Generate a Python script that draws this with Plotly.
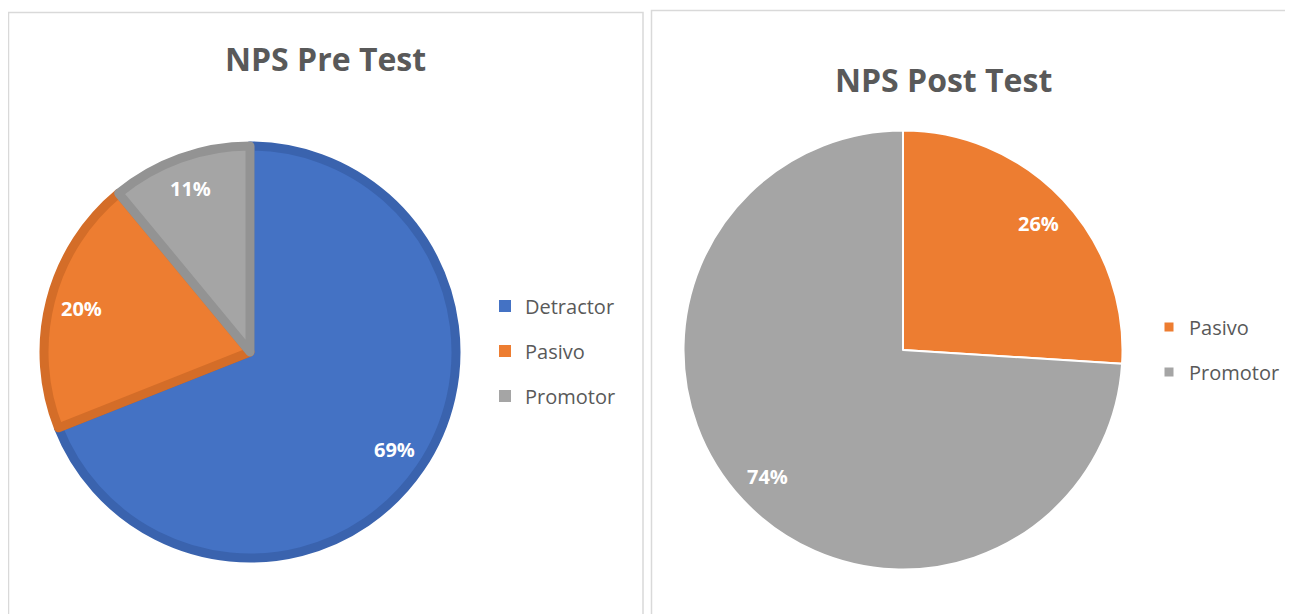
import math
import plotly.graph_objects as go

# ---- data ----
pre_labels = ["Detractor", "Pasivo", "Promotor"]
pre_values = [69, 20, 11]
post_labels = ["Pasivo", "Promotor"]
post_values = [26, 74]

pre_title = "NPS Pre Test"
post_title = "NPS Post Test"

# ---- styling ----
OX, OY = 8, 8            # page body margin
W, H = 1285, 606         # figure size
fill = {"Detractor": "#4472C4", "Pasivo": "#ED7D31", "Promotor": "#A5A5A5"}
edge = {"Detractor": "#3A63AE", "Pasivo": "#D46D28", "Promotor": "#939393"}
FONT = "Open Sans"
TXT = "#595959"


def px(sx):
    return (sx - OX) / W


def py(sy):
    return 1 - (sy - OY) / H


# pie geometry (screen px): centre and radius
PRE_C, PRE_R = (250, 352), 206
POST_C, POST_R = (903, 350), 219.5

fig = go.Figure()


def add_pie(labels, values, centre, r, line):
    cx, cy = centre
    fig.add_trace(go.Pie(
        labels=labels, values=values, sort=False, direction="clockwise",
        rotation=0, showlegend=False, textinfo="none",
        marker=dict(colors=[fill[l] for l in labels], line=line),
        hoverinfo="label+percent",
        domain=dict(x=[px(cx - r), px(cx + r)], y=[py(cy + r), py(cy - r)]),
    ))


add_pie(pre_labels, pre_values, PRE_C, PRE_R,
        dict(color=[edge[l] for l in pre_labels], width=9))
add_pie(post_labels, post_values, POST_C, POST_R,
        dict(color="white", width=2))


def slice_labels(values, centre, r, k):
    cx, cy = centre
    tot = sum(values)
    out = []
    cum = 0
    for v in values:
        mid = (cum + v / 2) / tot * 2 * math.pi
        cum += v
        sx = cx + k * r * math.sin(mid)
        sy = cy - k * r * math.cos(mid)
        out.append(dict(
            text="%d%%" % round(100 * v / tot), x=px(sx), y=py(sy),
            xref="paper", yref="paper", showarrow=False,
            xanchor="center", yanchor="middle",
            font=dict(family=FONT, size=20, color="white", weight="bold")))
    return out


# legend entries
for i, l in enumerate(pre_labels):
    fig.add_trace(go.Scatter(
        x=[None], y=[None], mode="markers", name=l, legend="legend",
        legendgroup="a%d" % i,
        marker=dict(symbol="square", size=12, color=fill[l]),
    ))
for i, l in enumerate(post_labels):
    fig.add_trace(go.Scatter(
        x=[None], y=[None], mode="markers", name=l, legend="legend2",
        legendgroup="b%d" % i,
        marker=dict(symbol="square", size=9, color=fill[l]),
    ))

shapes = [
    dict(type="rect", xref="paper", yref="paper",
         x0=px(8.5), x1=px(643), y0=-0.05, y1=py(12.5),
         line=dict(color="#D9D9D9", width=1.5), fillcolor="rgba(0,0,0,0)"),
    dict(type="rect", xref="paper", yref="paper",
         x0=px(651.5), x1=1.05, y0=-0.05, y1=py(10.5),
         line=dict(color="#D9D9D9", width=1.5), fillcolor="rgba(0,0,0,0)"),
]

annotations = [
    dict(text=pre_title, x=px(325), y=py(58), xref="paper", yref="paper",
         showarrow=False, xanchor="center", yanchor="middle",
         font=dict(family=FONT, size=32, color=TXT, weight="bold")),
    dict(text=post_title, x=px(943), y=py(79), xref="paper", yref="paper",
         showarrow=False, xanchor="center", yanchor="middle",
         font=dict(family=FONT, size=32, color=TXT, weight="bold")),
]
annotations += slice_labels(pre_values, PRE_C, PRE_R + 4, 0.83)
annotations += slice_labels(post_values, POST_C, POST_R, 0.845)

fig.update_layout(
    width=W, height=H, autosize=False,
    margin=dict(l=0, r=0, t=0, b=0),
    paper_bgcolor="white", plot_bgcolor="white",
    xaxis=dict(visible=False), yaxis=dict(visible=False),
    shapes=shapes, annotations=annotations,
    legend=dict(x=px(485), y=py(351), xanchor="left", yanchor="middle",
                traceorder="grouped", tracegroupgap=16,
                font=dict(family=FONT, size=20, color=TXT),
                bgcolor="rgba(0,0,0,0)"),
    legend2=dict(x=px(1149), y=py(349.5), xanchor="left", yanchor="middle",
                 traceorder="grouped", tracegroupgap=16,
                 font=dict(family=FONT, size=20, color=TXT),
                 bgcolor="rgba(0,0,0,0)"),
)

fig.write_html("out.html")
